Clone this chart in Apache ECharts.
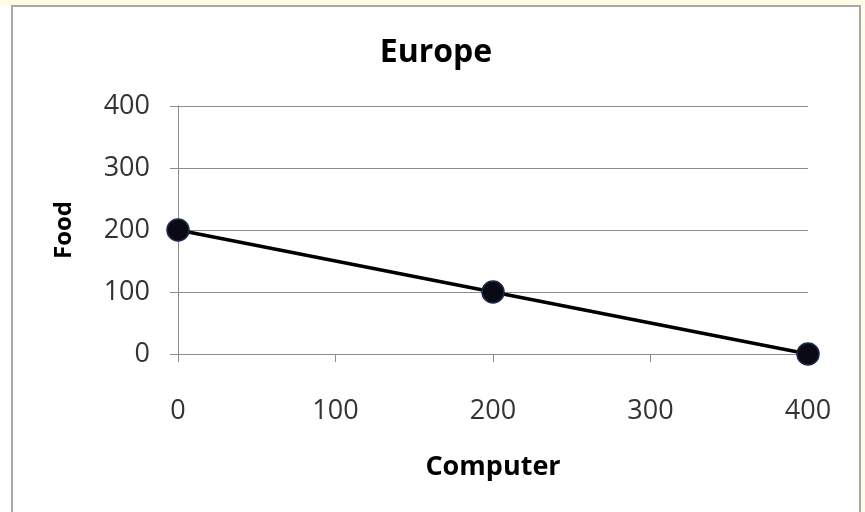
<!DOCTYPE html>
<html>
<head>
<meta charset="utf-8">
<script src="https://cdn.jsdelivr.net/npm/echarts@6/dist/echarts.min.js"></script>
<style>
  html, body { margin: 0; padding: 0; background: #fdfce9; }
  .leftStrip { position: absolute; left: 0; top: 6px; width: 11px; height: 506px; background: #fff; }
  .frame {
    position: absolute; left: 11px; top: 5px; width: 846px; height: 520px;
    background: #fff; border: 2px solid #a8a8a8;
  }
  #chart { position: absolute; left: 0; top: 0; width: 865px; height: 512px; }
</style>
</head>
<body>
<div class="leftStrip"></div>
<div class="frame"></div>
<div id="chart"></div>
<script>
// 数据
const computer = [0, 200, 400]
const food = [200, 100, 0]
const xTicks = [0, 100, 200, 300, 400]
const yTicks = [0, 100, 200, 300, 400]

const points = computer.map((c, i) => [c, food[i]])
const fontFamily = '"Open Sans", "Liberation Sans", sans-serif'
const textColor = '#333'
const gridColor = '#8c8c8c'

const myChart = echarts.init(document.getElementById('chart'))
const option = {
  backgroundColor: 'transparent',
  animation: false,
  title: {
    text: 'Europe',
    left: 431,
    top: 32,
    textAlign: 'center',
    textStyle: { fontFamily, fontSize: 32, fontWeight: 'bold', color: '#000' }
  },
  grid: { left: 178, right: 57, top: 106, bottom: 158 },
  xAxis: {
    type: 'value',
    min: xTicks[0],
    max: xTicks[xTicks.length - 1],
    interval: 100,
    name: 'Computer',
    nameLocation: 'middle',
    nameGap: 100,
    nameTextStyle: { fontFamily, fontSize: 27, fontWeight: 'bold', color: '#000' },
    axisLine: { show: true, lineStyle: { color: gridColor, width: 1 } },
    axisTick: { show: true, length: 8, lineStyle: { color: gridColor } },
    axisLabel: { fontFamily, fontSize: 27, color: textColor, margin: 44 },
    splitLine: { show: false }
  },
  yAxis: {
    type: 'value',
    min: yTicks[0],
    max: yTicks[yTicks.length - 1],
    interval: 100,
    name: 'Food',
    nameLocation: 'middle',
    nameGap: 102,
    nameRotate: 90,
    nameTextStyle: { fontFamily, fontSize: 24, fontWeight: 'bold', color: '#000' },
    axisLine: { show: true, lineStyle: { color: gridColor, width: 1 } },
    axisTick: { show: true, length: 8, lineStyle: { color: gridColor } },
    axisLabel: { fontFamily, fontSize: 27, color: textColor, margin: 28 },
    splitLine: { show: true, lineStyle: { color: gridColor, width: 1 } }
  },
  series: [{
    type: 'line',
    data: points,
    symbol: 'circle',
    symbolSize: 22,
    lineStyle: { color: '#000', width: 3.5 },
    itemStyle: { color: '#0a0a14', borderColor: '#1c2a4a', borderWidth: 1.5 }
  }]
}
myChart.setOption(option)
</script>
</body>
</html>
